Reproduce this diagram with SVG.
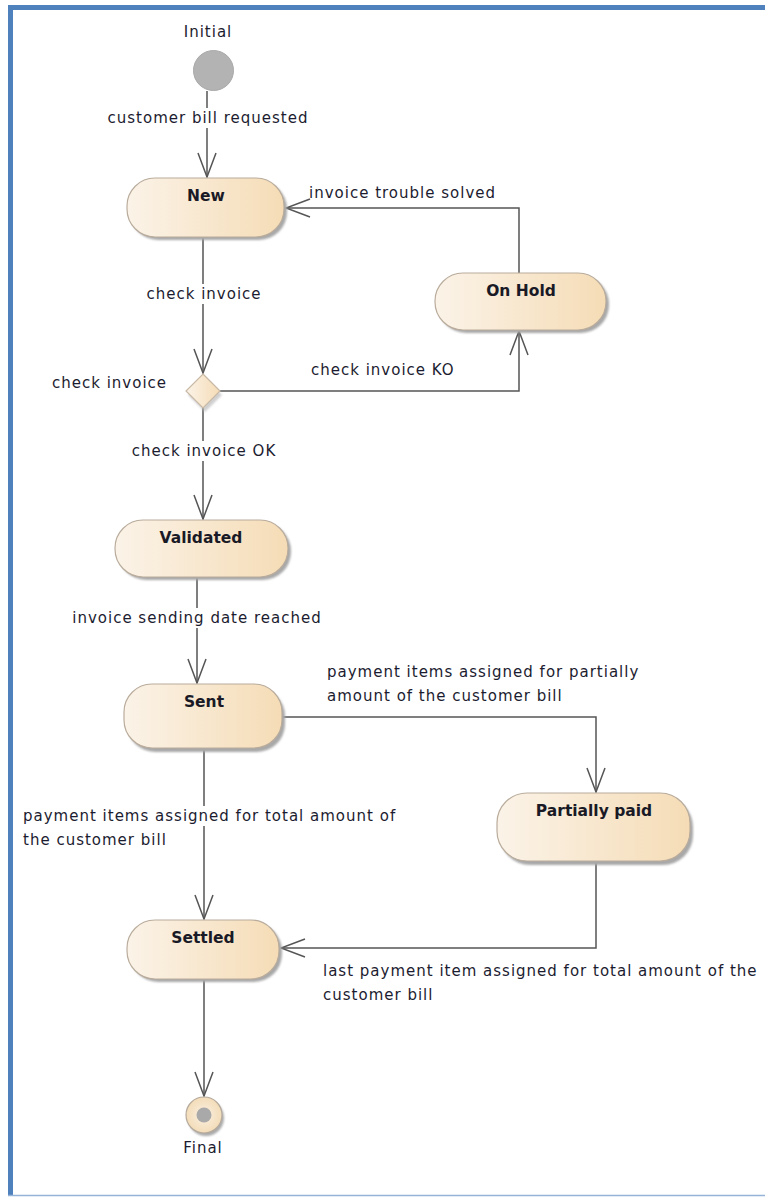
<svg xmlns="http://www.w3.org/2000/svg" width="765" height="1197" viewBox="0 0 765 1197">
<style>
.lbl{font-family:"DejaVu Sans","Liberation Sans",sans-serif;font-size:15px;letter-spacing:1px;fill:#1c1c30}
.nm{font-family:"DejaVu Sans","Liberation Sans",sans-serif;font-size:15.5px;font-weight:bold;fill:#1a1a26;text-anchor:middle}
.st{fill:url(#g);stroke:#b9ac9c;stroke-width:1.2}
.sh{fill:#a8a8a8;filter:url(#blur)}
.ln{fill:none;stroke:#555;stroke-width:1.5}
.bg{fill:#fff}
</style>
<defs>
<linearGradient id="g" x1="0" y1="0" x2="1" y2="0">
<stop offset="0" stop-color="#fbf3e8"/>
<stop offset="1" stop-color="#f5dcb6"/>
</linearGradient>
<radialGradient id="fg" cx="0.5" cy="0.5" r="0.5">
<stop offset="0" stop-color="#fbf1e2"/>
<stop offset="1" stop-color="#f3dcb8"/>
</radialGradient>
<filter id="blur" x="-10%" y="-10%" width="120%" height="130%"><feGaussianBlur stdDeviation="1.2"/></filter>
<marker id="arr" markerUnits="userSpaceOnUse" markerWidth="28" markerHeight="22" viewBox="-26 -11 28 22" refX="0" refY="0" orient="auto">
<path d="M-24,-9 L0,0 L-24,9" fill="none" stroke="#555" stroke-width="1.5"/>
</marker>
</defs>
<rect width="765" height="1197" fill="#fff"/>
<!-- frame -->
<line x1="8" y1="7.5" x2="765" y2="7.5" stroke="#4f81bd" stroke-width="5"/>
<line x1="10.5" y1="5" x2="10.5" y2="1196" stroke="#4f81bd" stroke-width="5"/>
<line x1="8" y1="1195.5" x2="765" y2="1195.5" stroke="#95b3d7" stroke-width="1.5"/>

<g id="connectors">
<path class="ln" d="M207,91 L207,177" marker-end="url(#arr)"/>
<path class="ln" d="M203,238 L203,373" marker-end="url(#arr)"/>
<path class="ln" d="M203,408 L203,519" marker-end="url(#arr)"/>
<path class="ln" d="M220,391 L519,391 L519,331" marker-end="url(#arr)"/>
<path class="ln" d="M519,273 L519,208 L286,208" marker-end="url(#arr)"/>
<path class="ln" d="M197,578 L197,683" marker-end="url(#arr)"/>
<path class="ln" d="M283,717 L596,717 L596,792" marker-end="url(#arr)"/>
<path class="ln" d="M204,749 L204,919" marker-end="url(#arr)"/>
<path class="ln" d="M596,863 L596,948 L281,948" marker-end="url(#arr)"/>
<path class="ln" d="M204,980 L204,1096" marker-end="url(#arr)"/>
<rect class="bg" x="106" y="108" width="204" height="20"/>
<text class="lbl" x="208" y="123" text-anchor="middle">customer bill requested</text>
<text class="lbl" x="309" y="198">invoice trouble solved</text>
<rect class="bg" x="143" y="284" width="122" height="20"/>
<text class="lbl" x="204" y="299" text-anchor="middle">check invoice</text>
<text class="lbl" x="311" y="375">check invoice KO</text>
<rect class="bg" x="126" y="441" width="156" height="20"/>
<text class="lbl" x="204" y="456" text-anchor="middle">check invoice OK</text>
<rect class="bg" x="66" y="608" width="263" height="20"/>
<text class="lbl" x="197" y="623" text-anchor="middle">invoice sending date reached</text>
<text class="lbl" x="327" y="677">payment items assigned for partially</text>
<text class="lbl" x="327" y="701">amount of the customer bill</text>
<rect class="bg" x="21" y="806" width="380" height="20"/>
<text class="lbl" x="23" y="821">payment items assigned for total amount of</text>
<text class="lbl" x="23" y="845">the customer bill</text>
<text class="lbl" x="323" y="976">last payment item assigned for total amount of the</text>
<text class="lbl" x="323" y="1000">customer bill</text>
</g>

<g id="initial">
<text class="lbl" x="208" y="37" text-anchor="middle">Initial</text>
<circle cx="213.5" cy="70.5" r="20" fill="#b3b3b3" stroke="#a9a9a9" stroke-width="1"/>
</g>

<g id="new">
<rect class="sh" x="130" y="181" width="157" height="59" rx="28"/>
<rect class="st" x="127" y="178" width="157" height="59" rx="28"/>
<text class="nm" x="206" y="201">New</text>
</g>

<g id="onhold">
<rect class="sh" x="438" y="276" width="171" height="57" rx="28"/>
<rect class="st" x="435" y="273" width="171" height="57" rx="28"/>
<text class="nm" x="521" y="296">On Hold</text>
</g>

<g id="decision">
<path d="M205,378 L222,395 L205,412 L188,395 Z" fill="#bbb" filter="url(#blur)" opacity="0.7"/>
<path d="M203,374 L220,391 L203,408 L186,391 Z" fill="url(#g)" stroke="#c8b9a6" stroke-width="1.2"/>
<text class="lbl" x="52" y="388">check invoice</text>
</g>

<g id="validated">
<rect class="sh" x="118" y="523" width="173" height="57" rx="28"/>
<rect class="st" x="115" y="520" width="173" height="57" rx="28"/>
<text class="nm" x="201" y="543">Validated</text>
</g>

<g id="sent">
<rect class="sh" x="127" y="688" width="158" height="64" rx="28"/>
<rect class="st" x="124" y="684" width="158" height="64" rx="28"/>
<text class="nm" x="204" y="707">Sent</text>
</g>

<g id="partiallypaid">
<rect class="sh" x="500" y="797" width="193" height="68" rx="30"/>
<rect class="st" x="497" y="793" width="193" height="68" rx="30"/>
<text class="nm" x="594" y="816">Partially paid</text>
</g>

<g id="settled">
<rect class="sh" x="130" y="923" width="152" height="59" rx="28"/>
<rect class="st" x="127" y="920" width="152" height="59" rx="28"/>
<text class="nm" x="203" y="943">Settled</text>
</g>

<g id="final">
<circle cx="206" cy="1118" r="18" fill="#aaa" filter="url(#blur)"/>
<circle cx="204" cy="1115" r="18" fill="url(#fg)" stroke="#b5aa9c" stroke-width="1.2"/>
<circle cx="204" cy="1115" r="7.5" fill="#a9a9a9"/>
<text class="lbl" x="203" y="1153" text-anchor="middle">Final</text>
</g>
</svg>
